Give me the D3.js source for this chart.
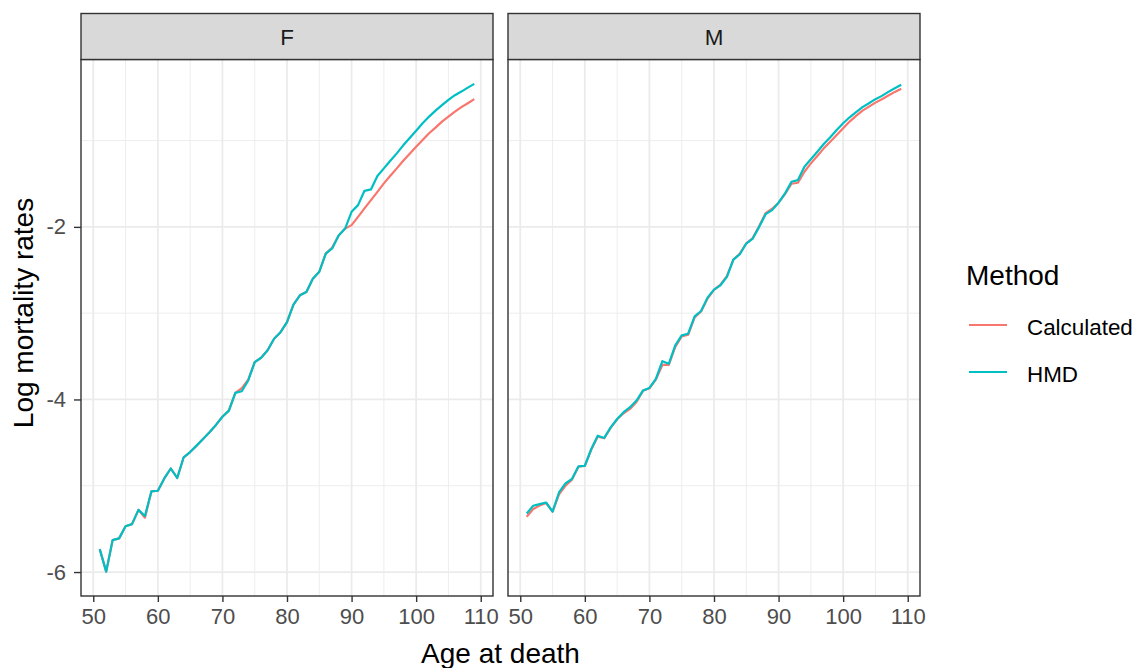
<!DOCTYPE html>
<html>
<head>
<meta charset="utf-8">
<script src="https://cdn.jsdelivr.net/npm/d3@7"></script>
<style>
  html, body { margin: 0; padding: 0; background: #ffffff; }
  svg { display: block; font-family: "Liberation Sans", Arial, sans-serif; }
</style>
</head>
<body>
<svg id="chart" width="1142" height="668"></svg>
<script>
// Ages at death shown on the x axis
const ages = d3.range(51, 110);

// Log mortality rates, females
const femaleHMD = [
  -5.735, -5.995, -5.63, -5.61, -5.47, -5.445, -5.28, -5.35, -5.066, -5.058,
  -4.915, -4.80, -4.91, -4.67, -4.61, -4.535, -4.458, -4.38, -4.295, -4.20,
  -4.13, -3.924, -3.905, -3.78, -3.568, -3.517, -3.43, -3.297, -3.22, -3.103,
  -2.90, -2.793, -2.755, -2.60, -2.52, -2.31, -2.25, -2.10, -2.02, -1.826,
  -1.748, -1.582, -1.566, -1.411, -1.322, -1.234, -1.148, -1.055, -0.970, -0.885,
  -0.799, -0.722, -0.653, -0.590, -0.528, -0.474, -0.432, -0.386, -0.343
];
const femaleCalculated = [
  -5.735, -5.995, -5.63, -5.61, -5.47, -5.445, -5.28, -5.37, -5.066, -5.058,
  -4.915, -4.80, -4.91, -4.67, -4.61, -4.535, -4.458, -4.38, -4.295, -4.20,
  -4.13, -3.924, -3.87, -3.77, -3.568, -3.517, -3.43, -3.297, -3.22, -3.103,
  -2.90, -2.793, -2.755, -2.60, -2.52, -2.31, -2.24, -2.10, -2.02, -1.98,
  -1.884, -1.786, -1.69, -1.594, -1.496, -1.408, -1.322, -1.233, -1.152, -1.071,
  -0.993, -0.915, -0.85, -0.78, -0.722, -0.664, -0.613, -0.567, -0.52
];

// Log mortality rates, males
const maleHMD = [
  -5.322, -5.232, -5.213, -5.194, -5.30, -5.078, -4.973, -4.922, -4.776, -4.768,
  -4.574, -4.42, -4.446, -4.323, -4.226, -4.148, -4.09, -4.013, -3.897, -3.866,
  -3.761, -3.556, -3.587, -3.374, -3.258, -3.238, -3.037, -2.975, -2.82, -2.727,
  -2.677, -2.58, -2.379, -2.317, -2.193, -2.135, -2.0, -1.853, -1.806, -1.72,
  -1.612, -1.477, -1.458, -1.303, -1.217, -1.129, -1.04, -0.962, -0.877, -0.799,
  -0.73, -0.671, -0.613, -0.567, -0.52, -0.482, -0.436, -0.393, -0.354
];
const maleCalculated = [
  -5.36, -5.27, -5.23, -5.20, -5.30, -5.10, -5.00, -4.93, -4.78, -4.77,
  -4.58, -4.43, -4.45, -4.33, -4.23, -4.16, -4.11, -4.03, -3.90, -3.87,
  -3.77, -3.60, -3.60, -3.39, -3.27, -3.25, -3.05, -2.98, -2.83, -2.73,
  -2.67, -2.57, -2.38, -2.31, -2.19, -2.13, -1.99, -1.84, -1.79, -1.72,
  -1.62, -1.50, -1.489, -1.361, -1.264, -1.179, -1.09, -1.013, -0.935, -0.857,
  -0.78, -0.714, -0.653, -0.606, -0.56, -0.52, -0.478, -0.436, -0.40
];

const panels = ["F", "M"];
const methods = ["Calculated", "HMD"];
const methodColors = ["#F8766D", "#00BFC4"];
const xTicks = [50, 60, 70, 80, 90, 100, 110];
const xMinor = [55, 65, 75, 85, 95, 105];
const yTicks = [-6, -4, -2];
const yMinor = [-5, -3, -1];

const seriesByPanel = {
  F: { Calculated: femaleCalculated, HMD: femaleHMD },
  M: { Calculated: maleCalculated, HMD: maleHMD }
};

const svg = d3.select("#chart");

// Layout
const panelTop = 59.5, panelBottom = 596;
const stripTop = 13.5;
const panelX = { F: [81, 493], M: [508, 920] };

// Scales with 5% padding on each side of the data range
const ageExt = d3.extent(ages);
const agepad = (ageExt[1] - ageExt[0]) * 0.05;
const allVals = [].concat(femaleHMD, femaleCalculated, maleHMD, maleCalculated);
const vExt = d3.extent(allVals);
const vpad = (vExt[1] - vExt[0]) * 0.05;
const y = d3.scaleLinear().domain([vExt[0] - vpad, vExt[1] + vpad]).range([panelBottom, panelTop]);

// plain hyphen-minus tick labels
const plainNumber = d => String(d);

const gridColor = "#ebebeb";
const inkColor = "#333333";

panels.forEach(p => {
  const [x0, x1] = panelX[p];
  const x = d3.scaleLinear().domain([ageExt[0] - agepad, ageExt[1] + agepad]).range([x0, x1]);
  const g = svg.append("g");

  // panel background and grid
  g.append("rect").attr("x", x0).attr("y", panelTop).attr("width", x1 - x0)
    .attr("height", panelBottom - panelTop).attr("fill", "#ffffff");

  g.selectAll(".ymin").data(yMinor).join("line")
    .attr("x1", x0).attr("x2", x1).attr("y1", d => y(d)).attr("y2", d => y(d))
    .attr("stroke", gridColor).attr("stroke-width", 0.9);
  g.selectAll(".xmin").data(xMinor).join("line")
    .attr("y1", panelTop).attr("y2", panelBottom).attr("x1", d => x(d)).attr("x2", d => x(d))
    .attr("stroke", gridColor).attr("stroke-width", 0.9);
  g.selectAll(".ymaj").data(yTicks).join("line")
    .attr("x1", x0).attr("x2", x1).attr("y1", d => y(d)).attr("y2", d => y(d))
    .attr("stroke", gridColor).attr("stroke-width", 1.8);
  g.selectAll(".xmaj").data(xTicks).join("line")
    .attr("y1", panelTop).attr("y2", panelBottom).attr("x1", d => x(d)).attr("x2", d => x(d))
    .attr("stroke", gridColor).attr("stroke-width", 1.8);

  // series lines
  const line = d3.line().x((d, i) => x(ages[i])).y(d => y(d));
  methods.forEach((m, mi) => {
    g.append("path")
      .attr("d", line(seriesByPanel[p][m]))
      .attr("fill", "none")
      .attr("stroke", methodColors[mi])
      .attr("stroke-width", 2.2)
      .attr("stroke-linejoin", "round")
      .attr("stroke-linecap", "butt");
  });

  // panel border
  g.append("rect").attr("x", x0).attr("y", panelTop).attr("width", x1 - x0)
    .attr("height", panelBottom - panelTop).attr("fill", "none")
    .attr("stroke", inkColor).attr("stroke-width", 1.4);

  // strip
  g.append("rect").attr("x", x0).attr("y", stripTop).attr("width", x1 - x0)
    .attr("height", panelTop - stripTop).attr("fill", "#d9d9d9")
    .attr("stroke", inkColor).attr("stroke-width", 1.4);
  g.append("text").attr("x", (x0 + x1) / 2).attr("y", 44.5)
    .attr("text-anchor", "middle").attr("font-size", 22.4).attr("fill", "#1a1a1a").text(p);

  // x axis
  const xAxis = d3.axisBottom(x).tickValues(xTicks).tickSize(6).tickPadding(6).tickFormat(plainNumber);
  const ax = g.append("g").attr("transform", `translate(0,${panelBottom})`).call(xAxis);
  ax.select(".domain").remove();
  ax.selectAll(".tick line").attr("stroke", inkColor).attr("stroke-width", 1.4);
  ax.selectAll(".tick text").attr("font-size", 22).attr("fill", "#4d4d4d")
    .attr("font-family", "Liberation Sans, Arial, sans-serif");

  // y axis on the first panel only
  if (p === "F") {
    const yAxis = d3.axisLeft(y).tickValues(yTicks).tickSize(7).tickPadding(8).tickFormat(plainNumber);
    const ay = g.append("g").attr("transform", `translate(${x0},0)`).call(yAxis);
    ay.select(".domain").remove();
    ay.selectAll(".tick line").attr("stroke", inkColor).attr("stroke-width", 1.4);
    ay.selectAll(".tick text").attr("font-size", 22).attr("fill", "#4d4d4d")
      .attr("font-family", "Liberation Sans, Arial, sans-serif");
  }
});

// axis titles
svg.append("text").attr("x", (panelX.F[0] + panelX.M[1]) / 2).attr("y", 663)
  .attr("text-anchor", "middle").attr("font-size", 28).attr("fill", "#000").text("Age at death");
svg.append("text").attr("transform", "translate(33,313) rotate(-90)")
  .attr("text-anchor", "middle").attr("font-size", 28).attr("fill", "#000").text("Log mortality rates");

// legend
const legend = svg.append("g");
legend.append("text").attr("x", 966).attr("y", 285).attr("font-size", 28).attr("fill", "#000").text("Method");
const keyY = [325, 372];
methods.forEach((m, i) => {
  legend.append("line").attr("x1", 969).attr("x2", 1007).attr("y1", keyY[i]).attr("y2", keyY[i])
    .attr("stroke", methodColors[i]).attr("stroke-width", 2.2);
  legend.append("text").attr("x", 1027).attr("y", keyY[i] + 9.5).attr("font-size", 22.4)
    .attr("fill", "#000").text(m);
});
</script>
</body>
</html>
